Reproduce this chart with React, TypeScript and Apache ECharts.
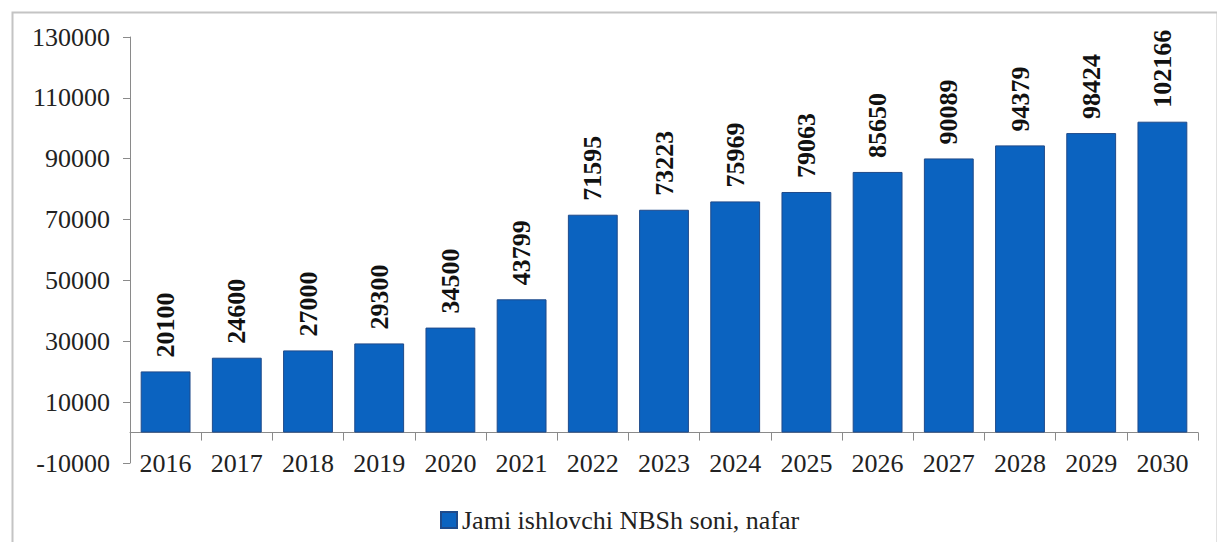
import React, { useEffect, useRef } from "react";
import * as echarts from "echarts";

const categories = ["2016", "2017", "2018", "2019", "2020", "2021", "2022", "2023", "2024", "2025", "2026", "2027", "2028", "2029", "2030"];
const values = [20100, 24600, 27000, 29300, 34500, 43799, 71595, 73223, 75969, 79063, 85650, 90089, 94379, 98424, 102166];
const yTicks = [-10000, 10000, 30000, 50000, 70000, 90000, 110000, 130000];
const seriesName = "Jami ishlovchi NBSh soni, nafar";

const FONT = "Liberation Serif";
const FS = 26;

export default function App() {
  const ref = useRef<HTMLDivElement>(null);
  useEffect(() => {
    if (!ref.current) return;
    const chart = echarts.init(ref.current, null, { renderer: "svg" });
    chart.setOption({
      animation: false,
      backgroundColor: "#ffffff",
      textStyle: { fontFamily: FONT },
      graphic: [
        {
          type: "rect",
          left: 10,
          top: 10,
          shape: { x: 0, y: 0, width: 1205, height: 545 },
          style: { fill: "none", stroke: "#c4c4c4", lineWidth: 2 },
          silent: true,
          z: -1,
        },
      ],
      grid: { left: 130, right: 19, top: 37, bottom: 79, containLabel: false },
      legend: {
        left: 435,
        top: 502,
        icon: "rect",
        itemWidth: 16,
        itemHeight: 16,
        itemGap: 4,
        textStyle: { fontFamily: FONT, fontSize: FS, color: "#222" },
        data: [seriesName],
      },
      xAxis: {
        type: "category",
        data: categories,
        axisLine: { onZero: true, lineStyle: { color: "#8a8a8a", width: 1 } },
        axisTick: { show: true, alignWithLabel: false, length: 8, lineStyle: { color: "#8a8a8a" } },
        axisLabel: { fontFamily: FONT, fontSize: FS, color: "#222", margin: -13, interval: 0 },
        splitLine: { show: false },
      },
      yAxis: {
        type: "value",
        min: -10000,
        max: 130000,
        interval: 10000,
        axisLine: { show: true, lineStyle: { color: "#8a8a8a", width: 1 } },
        axisTick: { show: true, length: 7, lineStyle: { color: "#8a8a8a" }, customValues: yTicks },
        axisLabel: {
          fontFamily: FONT,
          fontSize: FS,
          color: "#222",
          margin: 20,
          customValues: yTicks,
          formatter: (v: number) => String(v),
        },
        splitLine: { show: false },
      },
      series: [
        {
          name: seriesName,
          type: "bar",
          data: values,
          barCategoryGap: "30%",
          itemStyle: { color: "#0B63C0", borderColor: "#1F4A8A", borderWidth: 1 },
          label: {
            show: true,
            position: "top",
            rotate: 90,
            align: "left",
            verticalAlign: "middle",
            distance: 14,
            fontFamily: FONT,
            fontSize: FS,
            fontWeight: "bold",
            color: "#111",
          },
        },
      ],
    });
    return () => chart.dispose();
  }, []);
  return <div ref={ref} style={{ position: "fixed", left: 0, top: 0, width: 1217, height: 542 }} />;
}
